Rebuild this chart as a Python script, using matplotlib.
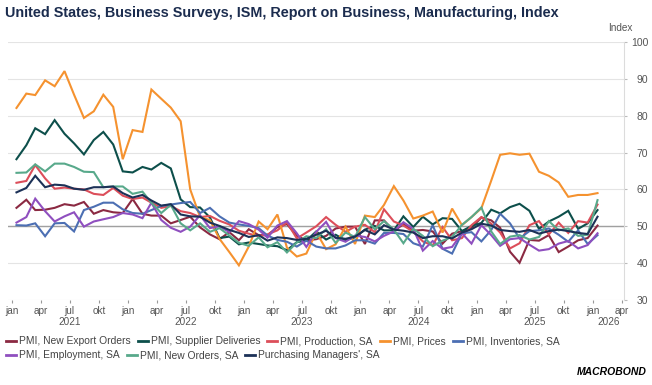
import matplotlib
matplotlib.use("Agg")
import matplotlib.pyplot as plt
import matplotlib.dates as mdates
from matplotlib.lines import Line2D
import pandas as pd

plt.rcParams['font.family'] = ['Liberation Sans', 'DejaVu Sans']

# monthly, jan 2021 .. jan 2026
months = pd.date_range('2021-01-01', periods=61, freq='MS') + pd.Timedelta(days=14)

new_export_orders = [55.0, 57.2, 54.4, 54.5, 55.0, 56.0, 55.6, 56.6, 53.4, 54.4, 53.8, 53.6,
                     57.4, 53.4, 52.9, 52.9, 50.8, 51.7, 52.6, 49.7, 47.8, 46.5, 48.4, 46.2,
                     49.2, 47.6, 47.6, 49.8, 50.6, 47.4, 46.2, 46.5, 47.4, 49.4, 49.9, 49.9,
                     45.2, 51.6, 51.6, 48.7, 50.6, 48.8, 49.0, 48.6, 45.3, 48.0, 48.7, 49.6,
                     52.4, 51.6, 49.6, 43.1, 40.1, 46.3, 46.1, 47.6, 43.0, 44.5, 46.2, 46.8, 50.2]
supplier_deliveries = [68.2, 72.0, 76.6, 75.0, 78.8, 75.1, 72.5, 69.5, 73.4, 75.6, 72.2, 64.9,
                       64.6, 66.1, 65.4, 67.2, 65.7, 57.3, 55.2, 55.1, 52.4, 46.8, 47.2, 45.1,
                       45.6, 45.2, 44.8, 44.6, 43.5, 45.7, 46.1, 48.6, 46.4, 47.7, 46.2, 47.0,
                       49.1, 50.1, 48.9, 48.9, 52.7, 49.8, 52.6, 50.5, 52.2, 52.0, 48.7, 50.1,
                       50.9, 54.5, 53.5, 55.2, 56.1, 54.2, 49.3, 51.3, 52.6, 54.2, 49.3, 50.8, 54.4]
production = [61.8, 62.3, 66.6, 63.0, 60.2, 60.5, 60.2, 60.0, 58.8, 58.5, 60.4, 58.3,
              57.4, 57.8, 56.4, 55.0, 55.5, 54.1, 53.6, 52.5, 52.8, 51.5, 50.5, 48.8,
              48.0, 47.3, 47.8, 48.9, 51.1, 46.7, 48.3, 50.0, 52.5, 50.4, 48.5, 49.9,
              50.4, 48.4, 54.6, 51.3, 50.2, 48.5, 45.9, 44.8, 49.8, 46.2, 46.8, 50.3,
              52.5, 50.7, 48.3, 44.0, 45.4, 50.3, 51.4, 47.8, 51.0, 48.2, 51.4, 51.0, 55.9]
prices = [82.1, 86.0, 85.6, 89.6, 88.0, 92.1, 85.7, 79.4, 81.2, 85.7, 82.4, 68.2,
          76.1, 75.6, 87.1, 84.6, 82.2, 78.5, 60.0, 52.5, 51.7, 46.6, 43.0, 39.4,
          44.5, 51.3, 49.2, 53.2, 44.2, 41.8, 42.6, 48.4, 43.8, 45.1, 49.9, 45.2,
          52.9, 52.5, 55.8, 60.9, 57.0, 52.1, 52.9, 54.0, 48.3, 54.8, 50.3, 52.5,
          54.9, 62.4, 69.4, 69.8, 69.4, 69.7, 64.8, 63.7, 61.9, 58.0, 58.5, 58.5, 59.0]
inventories = [50.3, 50.2, 50.8, 47.3, 50.8, 50.9, 48.6, 54.4, 55.3, 56.4, 56.4, 54.6,
               53.6, 53.4, 54.4, 55.5, 55.9, 56.3, 56.6, 53.6, 55.0, 52.7, 51.0, 50.5,
               50.1, 49.5, 47.5, 46.3, 45.8, 44.5, 46.1, 44.5, 44.0, 44.0, 44.8, 46.2,
               46.2, 45.3, 48.2, 48.2, 47.9, 45.4, 44.5, 50.3, 43.9, 42.6, 48.1, 48.4,
               45.9, 49.0, 53.4, 50.8, 46.7, 48.7, 48.9, 49.4, 47.7, 45.8, 48.9, 45.2, 47.6]
employment = [51.0, 52.5, 57.5, 54.1, 51.3, 52.7, 53.8, 49.9, 51.3, 51.9, 52.5, 53.6,
              53.2, 52.2, 56.4, 51.7, 49.6, 48.5, 49.9, 53.0, 49.5, 50.0, 48.4, 51.4,
              50.6, 49.1, 46.9, 50.2, 51.4, 48.1, 44.4, 48.5, 51.2, 46.8, 45.8, 47.5,
              47.1, 45.9, 47.4, 48.6, 51.1, 49.3, 43.4, 46.0, 43.9, 44.4, 48.1, 45.3,
              50.3, 47.6, 44.7, 46.5, 46.8, 45.0, 43.4, 43.8, 45.3, 46.0, 44.0, 44.9, 48.1]
new_orders = [64.5, 64.6, 66.8, 64.9, 67.0, 67.0, 66.1, 64.8, 64.7, 60.6, 60.8, 60.8,
              58.8, 59.4, 56.4, 53.6, 55.8, 50.8, 48.9, 50.8, 48.5, 49.5, 47.5, 45.5,
              44.7, 47.0, 44.3, 45.7, 42.9, 45.6, 47.3, 46.8, 49.2, 45.5, 48.3, 47.1,
              52.5, 49.2, 51.4, 49.1, 45.4, 49.3, 47.4, 44.6, 46.1, 47.1, 50.4, 52.5,
              55.1, 48.6, 45.2, 47.2, 47.6, 46.4, 47.1, 51.4, 48.9, 49.4, 47.4, 47.7, 57.1]
pmi = [59.2, 60.4, 63.7, 60.6, 61.3, 61.1, 60.2, 59.9, 60.6, 60.6, 60.8, 59.0,
       57.8, 58.5, 57.0, 55.6, 56.0, 53.2, 52.7, 52.6, 51.0, 50.1, 49.0, 48.2,
       47.1, 47.6, 46.1, 47.0, 46.8, 46.3, 46.6, 47.7, 48.8, 46.9, 46.6, 47.2,
       49.0, 47.8, 50.3, 49.1, 48.8, 48.3, 46.8, 47.3, 47.3, 46.7, 48.3, 49.2,
       50.7, 50.2, 49.0, 48.7, 48.5, 49.0, 48.0, 48.7, 49.1, 48.7, 48.2, 47.9, 52.6]

names = ['PMI, New Export Orders', 'PMI, Supplier Deliveries', 'PMI, Production, SA',
         'PMI, Prices', 'PMI, Inventories, SA', 'PMI, Employment, SA',
         'PMI, New Orders, SA', "Purchasing Managers', SA"]
series = [new_export_orders, supplier_deliveries, production, prices,
          inventories, employment, new_orders, pmi]
colors = ['#8b2942', '#0d4f4b', '#dc4e5a', '#f5922f', '#4c6fb3', '#8f4fbf', '#58a98b', '#1c3157']

W, H = 652, 385
fig = plt.figure(figsize=(W / 100, H / 100), dpi=100)
ax = fig.add_axes([8 / W, 1 - 300 / H, (624 - 8) / W, (300 - 42) / H])

for vals, c in zip(series, colors):
    ax.plot(months, vals, color=c, lw=1.5, solid_joinstyle='miter', zorder=3)

ax.axhline(50, color='#a0a0a0', lw=1, zorder=2)
ax.set_ylim(30, 100)
ax.set_yticks(range(30, 101, 10))
ax.grid(axis='y', color='#e4e4e4', lw=0.8, zorder=1)
ax.set_axisbelow(True)

x0 = mdates.date2num(pd.Timestamp('2021-01-01')) - 12.6
x1 = mdates.date2num(pd.Timestamp('2026-04-01')) + 7.2
ax.set_xlim(x0, x1)

for s in ['left', 'top', 'bottom']:
    ax.spines[s].set_visible(False)
ax.spines['right'].set_color('#dcdcdc')
ax.spines['right'].set_linewidth(0.8)

ax.yaxis.tick_right()
ax.tick_params(axis='y', length=2.5, color='#bbbbbb', labelsize=7.5, labelcolor='#555555', pad=15)
for lab in ax.get_yticklabels():
    lab.set_horizontalalignment('right')

qticks = pd.date_range('2021-01-01', '2026-04-01', freq='QS')
ax.set_xticks(qticks)
ax.set_xticklabels([{1: 'jan', 4: 'apr', 7: 'jul', 10: 'okt'}[d.month] for d in qticks])
ax.tick_params(axis='x', length=2.5, color='#999999', labelsize=7.2, labelcolor='#555555', pad=1.5)

for yr in range(2021, 2027):
    if yr < 2026:
        xc = mdates.date2num(pd.Timestamp(f'{yr}-07-01'))
    else:
        xc = (mdates.date2num(pd.Timestamp('2026-01-01')) + x1) / 2
    ax.annotate(str(yr), xy=(xc, 0), xycoords=('data', 'axes fraction'),
                xytext=(0, -16), textcoords='offset points', ha='center', va='center',
                fontsize=7.2, color='#555555')

fig.text(5 / W, 1 - 13 / H, 'United States, Business Surveys, ISM, Report on Business, Manufacturing, Index',
         fontsize=10.4, fontweight='bold', color='#1b2c4e', ha='left', va='center')
fig.text(620 / W, 1 - 28 / H, 'Index', fontsize=7.2, color='#555555', ha='center', va='center')

# legend, flowing like the original
fig.canvas.draw()
renderer = fig.canvas.get_renderer()
rows = [[0, 1, 2, 3, 4], [5, 6, 7]]
for row, ypx in zip(rows, [341, 355]):
    x = 6
    y = 1 - ypx / H
    for i in row:
        fig.add_artist(Line2D([x / W, (x + 10) / W], [y, y], color=colors[i], lw=2,
                              transform=fig.transFigure))
        t = fig.text((x + 13) / W, y, names[i], fontsize=7.4, color='#444444', ha='left', va='center')
        bb = t.get_window_extent(renderer)
        x = bb.x1 + 7

fig.text(647 / W, 1 - 372 / H, 'MACROBOND', fontsize=7.5, fontweight='heavy', style='italic',
         color='black', ha='right', va='center')

fig.savefig('out.png', dpi=100)
